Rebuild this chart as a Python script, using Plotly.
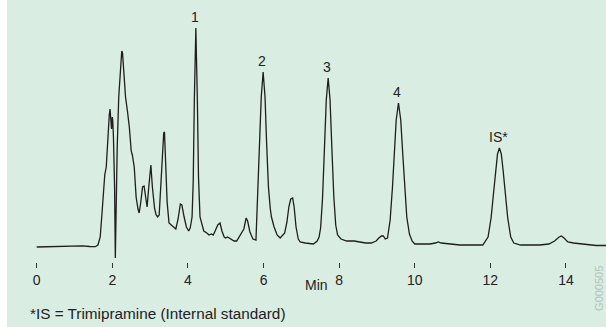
import plotly.graph_objects as go

# Chromatogram trace: retention time (min) and detector response (arbitrary units)
time_min = [
    0.0, 0.5, 1.0, 1.2, 1.4, 1.55, 1.62, 1.68, 1.72, 1.76, 1.80, 1.84, 1.88, 1.92, 1.94, 1.96,
    1.98, 2.00, 2.01, 2.03, 2.06, 2.08, 2.10, 2.13, 2.17, 2.21, 2.25, 2.27, 2.30, 2.35, 2.40,
    2.45, 2.50, 2.53, 2.58, 2.63, 2.68, 2.71, 2.75, 2.80, 2.84, 2.88, 2.92, 2.96, 3.00, 3.02,
    3.06, 3.12, 3.16, 3.20, 3.24, 3.28, 3.32, 3.36, 3.38, 3.41, 3.45, 3.50, 3.55, 3.62, 3.68,
    3.74, 3.80, 3.84, 3.90, 3.96, 4.02, 4.06, 4.11, 4.14, 4.17, 4.21, 4.25, 4.28, 4.32, 4.37,
    4.42, 4.50, 4.56, 4.62, 4.67, 4.72, 4.79, 4.85, 4.90, 4.96, 5.00, 5.05, 5.10, 5.16, 5.22,
    5.29, 5.35, 5.42, 5.48, 5.54, 5.58, 5.64, 5.72, 5.80, 5.85, 5.90, 5.94, 5.99, 6.04, 6.08,
    6.13, 6.18, 6.21, 6.28, 6.36, 6.44, 6.50, 6.56, 6.62, 6.67, 6.72, 6.77, 6.81, 6.86, 6.92,
    6.97, 7.10, 7.25, 7.32, 7.42, 7.47, 7.51, 7.56, 7.61, 7.66, 7.71, 7.76, 7.81, 7.86, 7.91,
    7.96, 8.05, 8.20, 8.40, 8.55, 8.70, 8.85, 8.98, 9.05, 9.12, 9.17, 9.22, 9.28, 9.35, 9.41,
    9.46, 9.51, 9.57, 9.63, 9.68, 9.73, 9.79, 9.86, 9.93, 10.0, 10.2, 10.4, 10.55, 10.62, 10.70,
    10.9, 11.2, 11.5, 11.8, 11.94, 12.02, 12.08, 12.14, 12.19, 12.24, 12.29, 12.34, 12.40, 12.46,
    12.54, 12.62, 12.8, 13.0, 13.3, 13.55, 13.7, 13.82, 13.88, 13.95, 14.05, 14.2, 14.4, 14.6,
    14.8, 15.06,
]
response = [
    0.0, 0.3, 1.0, 1.2, 0.5, 0.3, 2, 10, 30, 55, 72, 80, 110, 132, 138, 125,
    118, 130, 127, 110, 60, -11, 40, 100, 150, 180, 196, 194, 180, 150, 136,
    120, 96, 92, 80, 50, 38, 34, 44, 60, 61, 48, 40, 58, 80, 82,
    60, 38, 32, 30, 32, 60, 100, 114, 115, 90, 45, 24, 22, 20, 18,
    28, 43, 42, 30, 20, 16, 19, 30, 65, 147, 219, 147, 70, 30, 22,
    16, 14, 12, 13, 12, 16, 22, 24, 16, 10, 9, 10, 9, 8, 6,
    6, 10, 15, 18, 29, 26, 15, 8, 7, 52, 106, 150, 175, 150, 106,
    60, 38, 30, 20, 12, 9, 12, 14, 25, 40, 48, 49, 40, 20, 8,
    5, 4, 3, 3, 6, 10, 19, 48, 97, 147, 169, 147, 97, 50, 22,
    12, 8, 6, 6, 5, 4, 4, 6, 9, 11, 11, 8, 9, 27, 59,
    95, 127, 144, 127, 95, 59, 30, 13, 6, 3, 3, 3, 4, 5, 4,
    3, 2, 2, 2, 10, 29, 52, 76, 93, 99, 93, 76, 52, 29,
    10, 4, 2, 2, 2, 3, 6, 10, 11, 9, 5, 4, 3, 2,
    1.5, 1.5,
]

# Peak labels
peak_labels = ["1", "2", "3", "4", "IS*"]
peak_times = [4.21, 5.99, 7.71, 9.57, 12.24]
peak_heights = [219, 175, 169, 144, 99]

# Axis ticks
tick_values = [0, 2, 4, 6, 8, 10, 12, 14]
tick_text = ["0", "2", "4", "6", "8", "10", "12", "14"]

BG = "#daede2"
FONT = "Liberation Sans, Arial, sans-serif"

fig = go.Figure()
fig.add_trace(go.Scatter(
    x=time_min, y=response, mode="lines",
    line=dict(color="#1e1e1e", width=1.3),
    hoverinfo="skip", showlegend=False,
))

annotations = []
for lab, t, h in zip(peak_labels, peak_times, peak_heights):
    annotations.append(dict(
        x=t, y=h, xref="x", yref="y", text=lab, showarrow=False,
        yanchor="bottom", xanchor="center", yshift=1, xshift=-1,
        font=dict(family=FONT, size=14, color="#222222"),
    ))

annotations.append(dict(
    x=7.39, y=-0.088, xref="x", yref="paper", text="Min", showarrow=False,
    xanchor="center", yanchor="middle",
    font=dict(family=FONT, size=14, color="#222222"),
))
annotations.append(dict(
    x=28 / 606, y=-0.195, xref="paper", yref="paper",
    text="*IS = Trimipramine (Internal standard)", showarrow=False,
    xanchor="left", yanchor="middle",
    font=dict(family=FONT, size=15.3, color="#222222"),
))
annotations.append(dict(
    x=0.988, y=-0.10, xref="paper", yref="paper", text="G000505", showarrow=False,
    textangle=-90, xanchor="center", yanchor="middle",
    font=dict(family=FONT, size=11, color="#b4c2ba"),
))

fig.update_layout(
    width=606, height=327,
    margin=dict(l=0, r=0, t=0, b=65),
    paper_bgcolor=BG, plot_bgcolor=BG,
    annotations=annotations,
    shapes=[dict(
        type="rect", xref="paper", yref="paper",
        x0=-0.01, x1=7 / 606, y0=-0.3, y1=1.01,
        fillcolor="white", line=dict(width=0), layer="below",
    )],
    xaxis=dict(
        range=[-0.971, 15.06], showgrid=False, zeroline=False, showline=False,
        tickmode="array", tickvals=tick_values, ticktext=tick_text,
        ticks="outside", ticklen=5, tickwidth=1, tickcolor="#333333",
        tickfont=dict(family=FONT, size=14, color="#222222"),
        fixedrange=True,
    ),
    yaxis=dict(
        range=[-15, 247], showgrid=False, zeroline=False, showline=False,
        showticklabels=False, ticks="", fixedrange=True,
    ),
)

fig.write_html("out.html")
